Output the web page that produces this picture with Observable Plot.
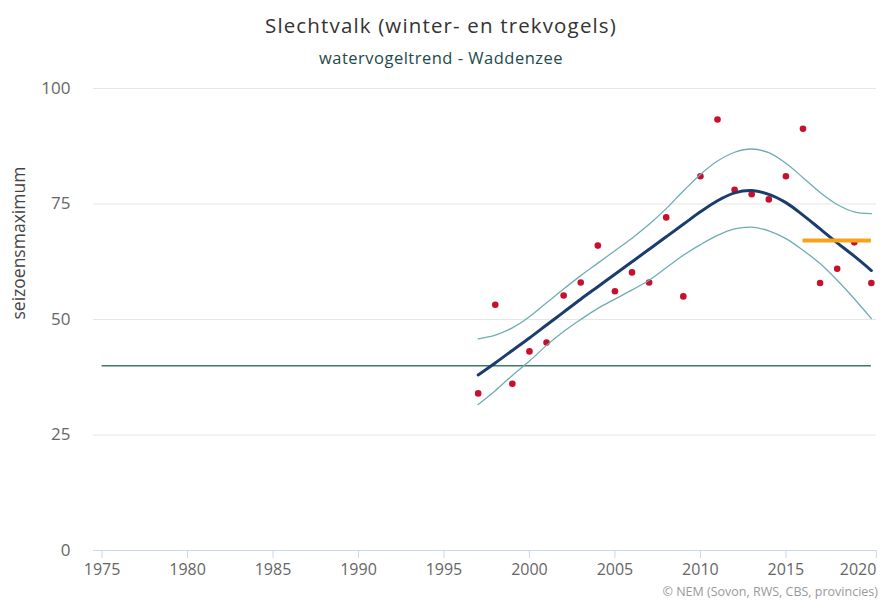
<!DOCTYPE html>
<html>
<head>
<meta charset="utf-8">
<script src="https://cdn.jsdelivr.net/npm/d3@7"></script>
<script src="https://cdn.jsdelivr.net/npm/@observablehq/plot@0.6"></script>
<style>
  html, body { margin: 0; padding: 0; background: #fff; }
  body { position: relative; width: 882px; height: 601px; overflow: hidden; font-family: "Open Sans", sans-serif; }
  #title { position: absolute; top: 11px; left: 0; width: 882px; text-align: center; font-size: 20.5px; letter-spacing: 1.15px; color: #333; line-height: 28px; }
  #subtitle { position: absolute; top: 46px; left: 0; width: 882px; text-align: center; font-size: 16.5px; letter-spacing: 0.5px; color: #1e4a4a; line-height: 24px; }
  #chart { position: absolute; top: 75px; left: 0; }
  #caption { position: absolute; top: 583px; right: 4px; font-size: 12.5px; color: #999; line-height: 18px; }
</style>
</head>
<body>
<div id="title">Slechtvalk (winter- en trekvogels)</div>
<div id="subtitle">watervogeltrend - Waddenzee</div>
<div id="chart"></div>
<div id="caption">© NEM (Sovon, RWS, CBS, provincies)</div>
<script>
const years = [1997,1998,1999,2000,2001,2002,2003,2004,2005,2006,2007,2008,2009,2010,2011,2012,2013,2014,2015,2016,2017,2018,2019,2020];
const counts = [34.0,53.2,36.1,43.1,45.0,55.2,58.0,66.0,56.1,60.2,58.0,72.1,55.0,81.0,93.3,78.1,77.1,76.0,81.0,91.3,57.9,61.0,66.7,57.9];
const trend = [38.0,40.6,43.3,46.0,48.8,51.6,54.4,57.1,59.8,62.5,65.2,67.9,70.6,73.3,75.7,77.4,77.9,77.1,75.3,72.6,69.6,66.6,63.7,60.6];
const upper = [45.8,46.6,48.2,50.6,53.6,56.6,59.5,62.2,64.9,67.6,70.6,74.0,77.8,81.4,84.3,86.2,86.9,86.1,83.8,80.7,77.5,74.9,73.3,72.9];
const lower = [31.6,34.6,37.9,41.0,44.4,47.4,50.0,52.4,54.4,56.4,58.5,61.2,63.9,66.2,68.2,69.6,70.0,69.2,67.5,65.0,62.1,58.5,54.5,50.2];
const referenceLevel = 40;
const referenceSpan = [1975, 2020];
const recentMean = 67.1;
const recentSpan = [2016, 2020];
const xTicks = [1975,1980,1985,1990,1995,2000,2005,2010,2015,2020];
const yTicks = [0,25,50,75,100];
const yLabel = "seizoensmaximum";

const rows = years.map((y, i) => ({year: y, count: counts[i], trend: trend[i], upper: upper[i], lower: lower[i]}));
const lastTick = xTicks[xTicks.length - 1];

const chart = Plot.plot({
  width: 882,
  height: 526,
  marginTop: 13,
  marginBottom: 51,
  marginLeft: 93,
  marginRight: 6,
  style: { fontFamily: "Open Sans, sans-serif", background: "#fff" },
  x: { domain: [1974.5, 2020.3] },
  y: { domain: [0, 100] },
  marks: [
    Plot.ruleY(yTicks.filter(d => d > 0), { stroke: "#e6e6e6", strokeWidth: 1 }),
    Plot.ruleY([0], { stroke: "#ccd6eb", strokeWidth: 1 }),
    Plot.axisX({ ticks: xTicks.slice(0, -1), tickFormat: d => String(d), tickSize: 8, tickPadding: 5, fontSize: 16, stroke: "#ccd6eb", fill: "#666", label: null }),
    Plot.axisX({ ticks: [lastTick], tickFormat: d => String(d), tickSize: 8, tickPadding: 5, fontSize: 16, stroke: "#ccd6eb", fill: "#666", label: null, textAnchor: "end", dx: 5 }),
    Plot.axisY({ ticks: yTicks, tickSize: 0, tickPadding: 23, fontSize: 17, fill: "#666", label: null }),
    Plot.text([yLabel], { frameAnchor: "left", dx: -74, rotate: -90, fontSize: 17.5, fill: "#444" }),
    Plot.ruleY([referenceLevel], { x1: referenceSpan[0], x2: referenceSpan[1], stroke: "#3a7a66", strokeWidth: 1.5 }),
    Plot.dot(rows, { x: "year", y: "count", r: 3.3, fill: "#c8102e", stroke: "none" }),
    Plot.line(rows, { x: "year", y: "upper", stroke: "#6fadb3", strokeWidth: 1.3, curve: "catmull-rom" }),
    Plot.line(rows, { x: "year", y: "lower", stroke: "#6fadb3", strokeWidth: 1.3, curve: "catmull-rom" }),
    Plot.line(rows, { x: "year", y: "trend", stroke: "#1b3d6d", strokeWidth: 3, curve: "catmull-rom" }),
    Plot.ruleY([recentMean], { x1: recentSpan[0], x2: recentSpan[1], stroke: "#f5a31a", strokeWidth: 4 })
  ]
});
document.getElementById("chart").appendChild(chart);
</script>
</body>
</html>
